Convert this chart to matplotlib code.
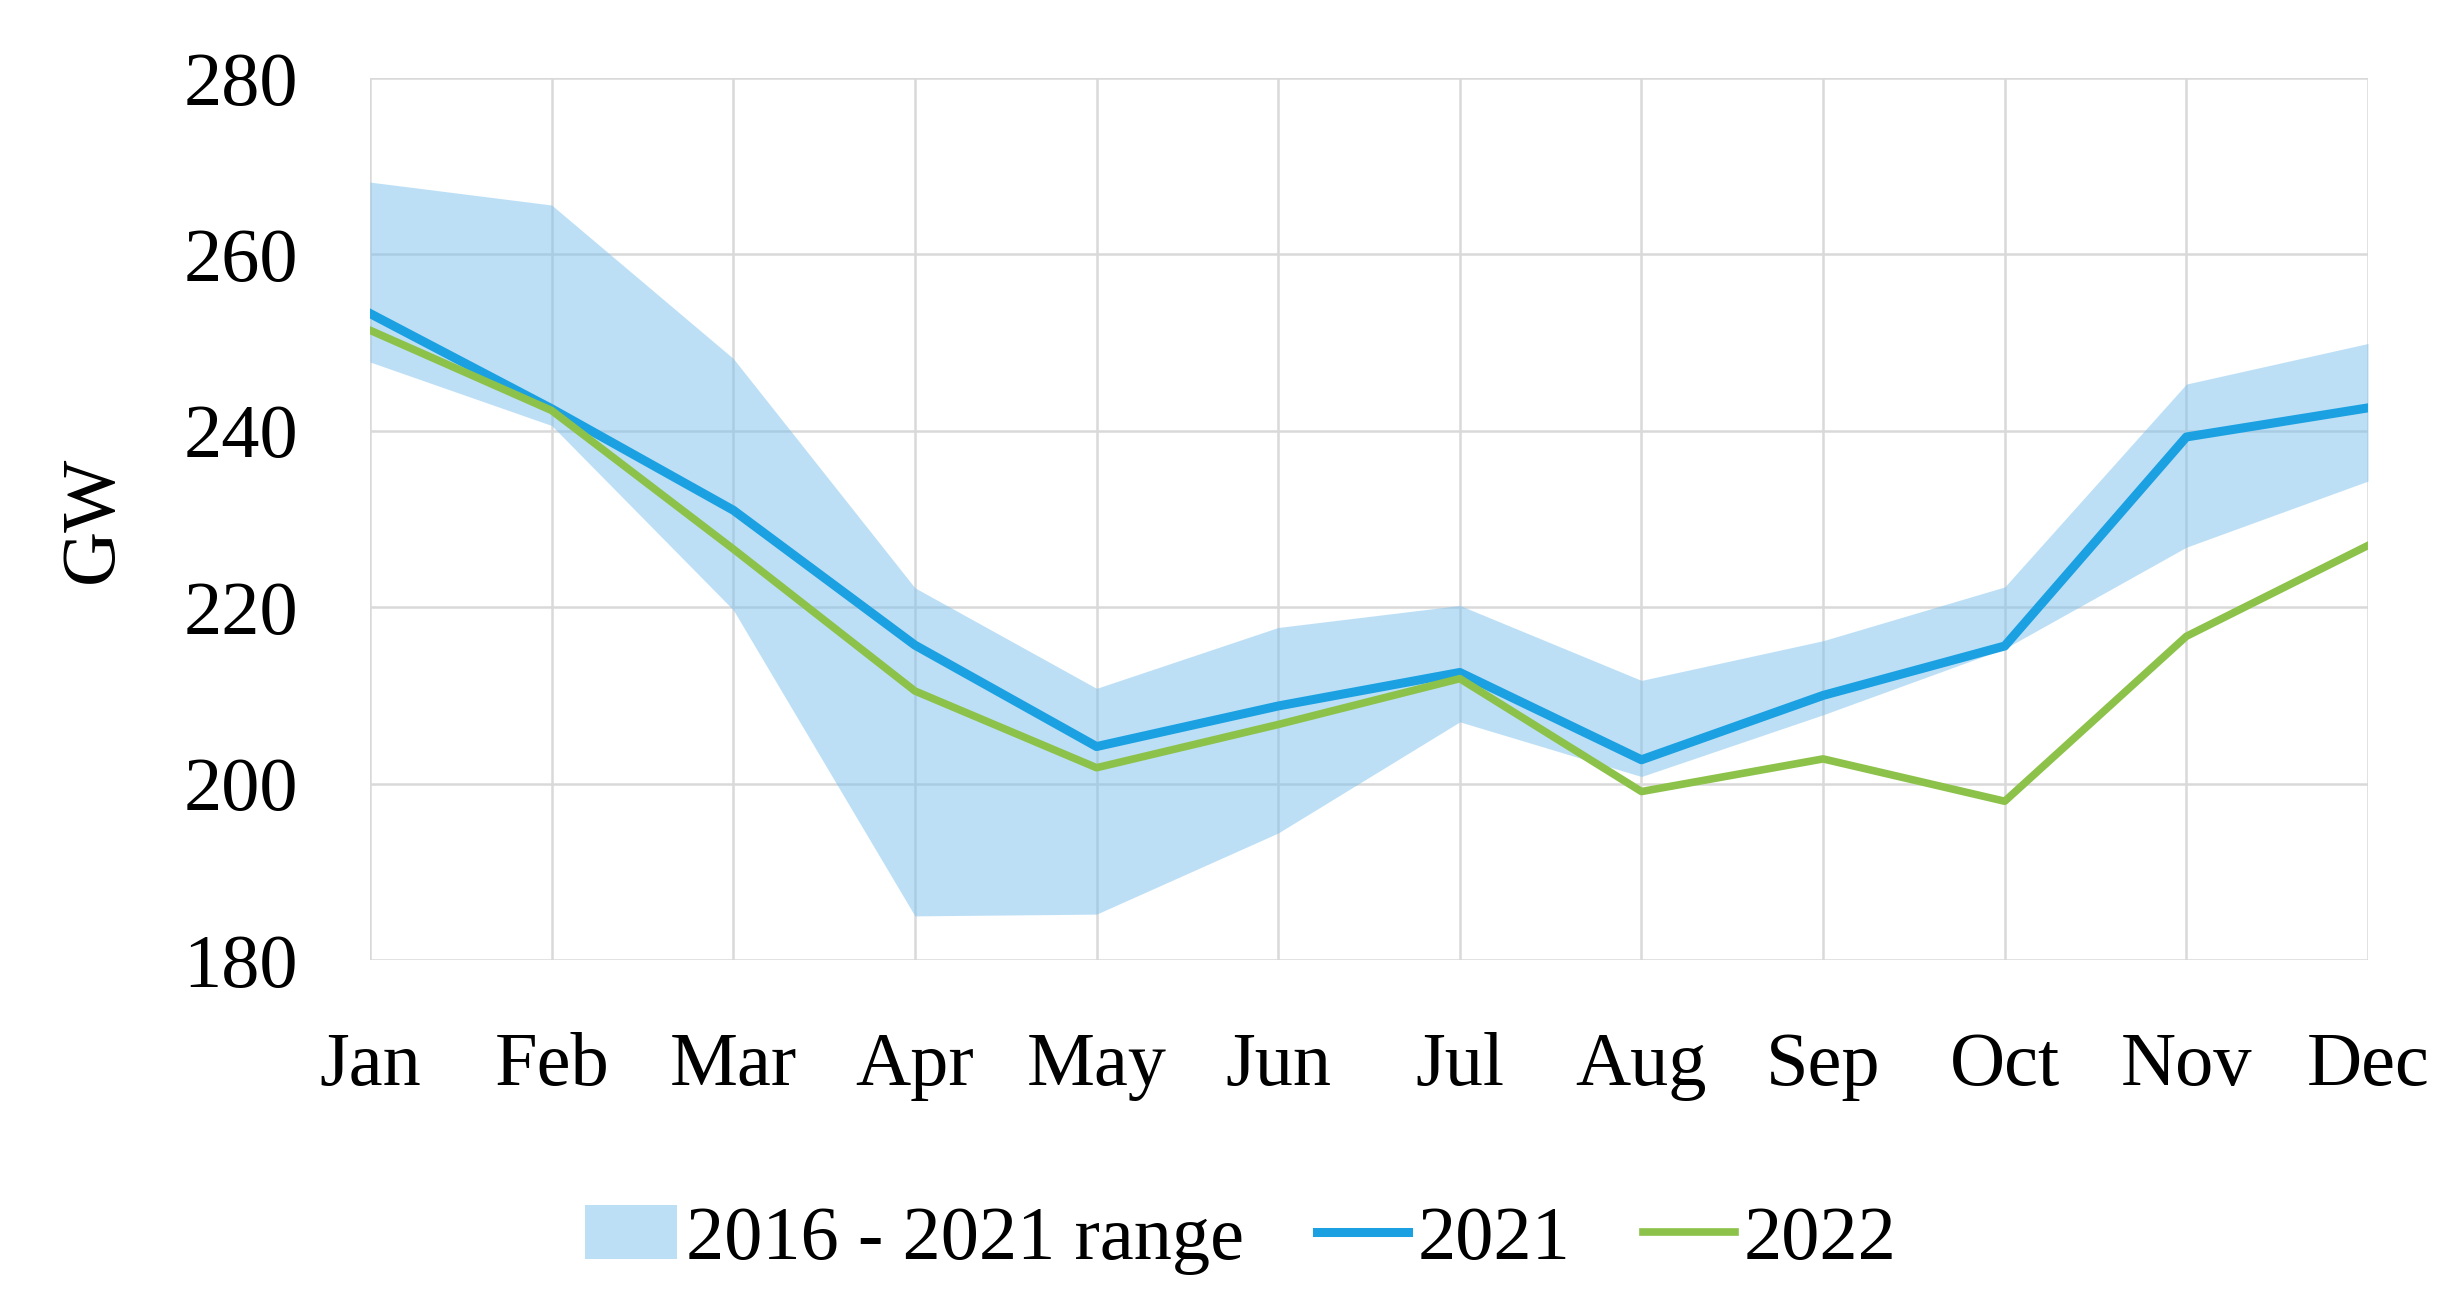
import matplotlib.pyplot as plt
import numpy as np

# Monthly values, GW
months = ['Jan', 'Feb', 'Mar', 'Apr', 'May', 'Jun', 'Jul', 'Aug', 'Sep', 'Oct', 'Nov', 'Dec']
range_low = [247.8, 240.6, 219.7, 185.0, 185.2, 194.4, 207.0, 200.8, 207.8, 215.3, 226.8, 234.3]
range_high = [268.2, 265.6, 248.2, 222.2, 210.8, 217.7, 220.2, 211.7, 216.2, 222.3, 245.3, 249.9]
gw_2021 = [253.3, 242.5, 231.0, 215.7, 204.2, 208.8, 212.6, 202.7, 210.0, 215.6, 239.3, 242.6]
gw_2022 = [251.4, 242.3, 226.6, 210.5, 201.8, 206.7, 211.9, 199.1, 202.8, 198.0, 216.7, 227.0]

plt.rcParams['font.family'] = ['Liberation Serif', 'DejaVu Serif']
fs = 55

fig = plt.figure(figsize=(24.6, 13), dpi=100)
ax = fig.add_axes([370 / 2460, 1 - 960 / 1300, (2368 - 370) / 2460, (960 - 78) / 1300])

x = np.arange(len(months))
ax.fill_between(x, range_low, range_high, color='#7DC1ED', alpha=0.5, linewidth=0,
                label='2016 - 2021 range', zorder=1)
ax.plot(x, gw_2021, color='#1BA1E2', linewidth=6.5, label='2021', zorder=3)
ax.plot(x, gw_2022, color='#8DC24A', linewidth=5.5, label='2022', zorder=4)

ax.set_xlim(0, 11)
ax.set_ylim(180, 280)
ax.set_xticks(x)
ax.set_xticklabels(months)
ax.set_yticks(np.arange(180, 281, 20))
ax.grid(True, color='#D9D9D9', linewidth=1.8, zorder=0)
ax.set_axisbelow(True)
for s in ax.spines.values():
    s.set_visible(False)
ax.tick_params(axis='x', length=0, pad=52, labelsize=fs)
ax.tick_params(axis='y', length=0, pad=52, labelsize=fs)
ax.set_ylabel('GW', fontsize=fs, labelpad=40)

ax.legend(loc='center', bbox_to_anchor=(0.5045, 1 - 1240 / 1300), bbox_transform=fig.transFigure,
          ncol=3, frameon=False, fontsize=fs, handlelength=1.2, handletextpad=0.12,
          columnspacing=0.95, borderpad=0)

plt.savefig('out.png', dpi=100)
